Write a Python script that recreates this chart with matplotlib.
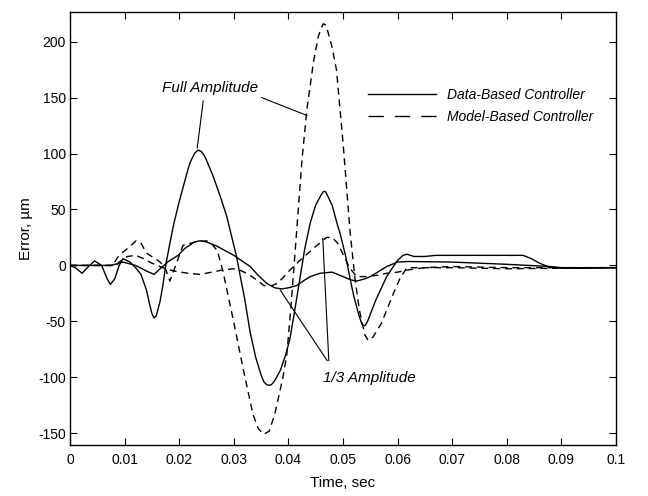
import matplotlib
matplotlib.use("Agg")
import matplotlib.pyplot as plt

plt.rcParams['font.family'] = ['Liberation Sans', 'DejaVu Sans']
plt.rcParams['axes.unicode_minus'] = False

# Data-Based Controller, full amplitude (solid)
t_data_full = [0, 0.001, 0.0022, 0.0034, 0.0045, 0.0058, 0.0068, 0.0074, 0.0082, 0.009,
               0.0097, 0.011, 0.012, 0.013, 0.014, 0.0145, 0.015, 0.0154, 0.0158, 0.0165,
               0.017, 0.0176, 0.0185, 0.019, 0.020, 0.021, 0.0215, 0.022, 0.0228, 0.0234,
               0.024, 0.0245, 0.025, 0.0262, 0.0275, 0.0287, 0.030, 0.0305, 0.031, 0.032,
               0.033, 0.034, 0.035, 0.0355, 0.036, 0.0363, 0.0367, 0.037, 0.0375, 0.0385,
               0.0395, 0.0403, 0.041, 0.042, 0.043, 0.044, 0.045, 0.046, 0.0464, 0.0468,
               0.047, 0.048, 0.049, 0.0495, 0.0505, 0.0513, 0.052, 0.053, 0.0535, 0.054,
               0.0545, 0.056, 0.058, 0.0599, 0.061, 0.0617, 0.063, 0.065, 0.067, 0.07,
               0.075, 0.08, 0.083, 0.0845, 0.086, 0.0875, 0.0885, 0.09, 0.095, 0.1]
e_data_full = [0, -2, -7, -1, 4, 0, -12, -17, -12, 0,
               6, 3, -2, -8, -22, -33, -43, -47, -45, -32,
               -18, 2, 25, 37, 57, 75, 84, 92, 100, 103,
               102, 99, 94, 80, 62, 44, 18, 8, -5, -30,
               -60, -82, -98, -104, -106.5, -107, -107, -106, -103, -94,
               -80, -65, -45, -15, 15, 38, 54, 63, 66, 66,
               64, 54, 36, 28, 8, -12, -28, -46, -53, -54,
               -50, -31, -10, 4, 9, 10, 8, 8, 9, 9,
               9, 9, 9, 6, 2, -1, -2, -2.5, -2.5, -2]

# Model-Based Controller, full amplitude (dashed)
t_model_full = [0, 0.008, 0.0083, 0.009, 0.0105, 0.0121, 0.013, 0.014, 0.0156, 0.0165,
                0.0174, 0.0183, 0.0195, 0.0207, 0.023, 0.025, 0.026, 0.027, 0.028, 0.029,
                0.030, 0.0317, 0.0335, 0.0345, 0.0355, 0.0365, 0.0375, 0.039, 0.0397, 0.0405,
                0.0415, 0.0425, 0.0434, 0.0446, 0.0455, 0.046, 0.0464, 0.0468, 0.047, 0.048,
                0.0488, 0.050, 0.0513, 0.0522, 0.053, 0.054, 0.0546, 0.0555, 0.057, 0.058,
                0.0595, 0.0604, 0.0617, 0.065, 0.07, 0.08, 0.09, 0.1]
e_model_full = [0, 0, 4, 9, 15, 22, 20, 11, 6, 3,
                -2, -14, 2, 18, 21, 22, 19, 13, -5, -28,
                -51, -92, -133, -146, -151, -148, -133, -100, -80, -35,
                30, 95, 140, 182, 205, 212, 216, 215, 213, 195,
                175, 110, 30, -12, -40, -62, -67, -64, -52, -40,
                -22, -12, -2, -2, -2, -3, -2.5, -2]

# Data-Based Controller, 1/3 amplitude (solid)
t_data_third = [0, 0.005, 0.0075, 0.0097, 0.012, 0.014, 0.0154, 0.0165, 0.018, 0.0198,
                0.021, 0.0228, 0.0238, 0.025, 0.027, 0.030, 0.0315, 0.033, 0.0345, 0.036,
                0.0375, 0.0388, 0.040, 0.0415, 0.043, 0.044, 0.0458, 0.048, 0.050, 0.0515,
                0.0525, 0.054, 0.055, 0.058, 0.060, 0.062, 0.07, 0.08, 0.088, 0.09, 0.1]
e_data_third = [0, 0, 0, 3, 0, -5, -8, -3, 3.5, 9,
                15, 21, 22, 21, 17, 9, 4, -1, -9, -16,
                -20, -21, -20, -18, -13, -10, -7, -6, -10, -13,
                -14, -12, -10, -1, 3, 3.5, 3, 1, -1, -2, -2]

# Model-Based Controller, 1/3 amplitude (dashed)
t_model_third = [0, 0.0085, 0.009, 0.0105, 0.012, 0.0135, 0.015, 0.017, 0.019, 0.0216,
                 0.0238, 0.026, 0.028, 0.030, 0.0315, 0.033, 0.0345, 0.0355, 0.037, 0.038,
                 0.039, 0.0397, 0.042, 0.045, 0.047, 0.048, 0.049, 0.050, 0.0512, 0.0525,
                 0.054, 0.056, 0.058, 0.060, 0.062, 0.065, 0.07, 0.08, 0.09, 0.1]
e_model_third = [0, 0, 3, 8, 9, 6, 2, -2, -5, -7,
                 -8, -6, -4, -3, -5, -9, -14, -18, -18, -16,
                 -11, -7, 4, 17, 25, 25, 20, 10, -2, -10,
                 -10, -9, -7, -6, -4, -2, -1, -2, -2, -2]

xticks = [0, 0.01, 0.02, 0.03, 0.04, 0.05, 0.06, 0.07, 0.08, 0.09, 0.1]
xtick_labels = ['0', '0.01', '0.02', '0.03', '0.04', '0.05', '0.06', '0.07', '0.08', '0.09', '0.1']
yticks = [-150, -100, -50, 0, 50, 100, 150, 200]

fig = plt.figure(figsize=(6.48, 4.96), dpi=100)
ax = fig.add_axes([70 / 648, 51 / 496, 546 / 648, 433 / 496])

dash = (0, (5, 3.5))
ax.plot(t_data_full, e_data_full, color='black', lw=1.0, label='Data-Based Controller')
ax.plot(t_model_full, e_model_full, color='black', lw=1.0, ls=dash, label='Model-Based Controller')
ax.plot(t_data_third, e_data_third, color='black', lw=1.0)
ax.plot(t_model_third, e_model_third, color='black', lw=1.0, ls=dash)

ax.set_xlim(0, 0.1)
ax.set_ylim(-160.5, 226.5)
ax.set_xticks(xticks)
ax.set_xticklabels(xtick_labels)
ax.set_yticks(yticks)
ax.tick_params(direction='in', length=5, width=0.8, top=True, right=True,
               labelsize=10, pad=6)
ax.tick_params(axis='y', pad=3)
for s in ax.spines.values():
    s.set_linewidth(1.0)

ax.set_xlabel('Time, sec', fontsize=11, labelpad=6)
ax.set_ylabel('Error, µm', fontsize=11, labelpad=4)

# annotations
ax.text(0.0256, 159, 'Full Amplitude', fontsize=11, style='italic', ha='center', va='center')
ax.plot([0.0244, 0.0233], [147, 105], color='black', lw=0.8)
ax.plot([0.0351, 0.0434], [150, 134], color='black', lw=0.8)

ax.text(0.0549, -101, '1/3 Amplitude', fontsize=11, style='italic', ha='center', va='center')
ax.plot([0.0471, 0.0385], [-85, -22], color='black', lw=0.8)
ax.plot([0.0474, 0.0463], [-85, 24], color='black', lw=0.8)

leg = ax.legend(loc='upper left', bbox_to_anchor=(0.5458, 0.8245), frameon=False,
                fontsize=10, handlelength=4.9, handletextpad=0.8, labelspacing=0.55,
                borderpad=0, borderaxespad=0)
for txt in leg.get_texts():
    txt.set_style('italic')
# the legend sample for the dashed line uses longer dashes, as in the original
leg.get_lines()[1].set_dashes([11, 8])

fig.savefig('out.png', dpi=100)
